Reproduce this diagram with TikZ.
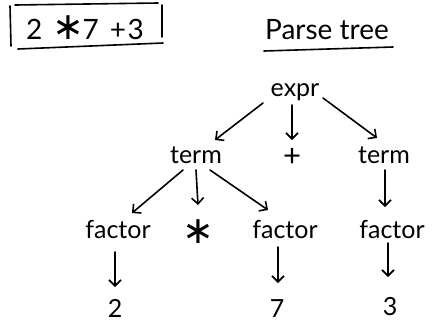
\documentclass[tikz,border=0pt]{standalone}
\usepackage{fontspec}
\setmainfont{Lato}
\newfontfamily\symfont{DejaVu Sans}
\usetikzlibrary{arrows.meta}
\newcommand{\hstar}{{\symfont\fontsize{38}{40}\selectfont ∗}}
\begin{document}
\begin{tikzpicture}[x=1pt,y=-1pt,
  pen/.style={line width=1.6pt,line cap=round},
  edge/.style={pen,-{Straight Barb[length=6pt,width=12pt,line width=1.6pt]}},
  lbl/.style={font=\fontsize{25}{27}\selectfont,inner sep=1pt},
  ttl/.style={font=\fontsize{28}{30}\selectfont,inner sep=1pt},
  inp/.style={font=\fontsize{28}{30}\selectfont,inner sep=0pt}]
\useasboundingbox (0,0) rectangle (432,322);
% input box
\node[inp] (input) at (85,28) {2\hspace{0.35em}\hstar\hspace{-0.05em}7\hspace{0.4em}+\hspace{0.05em}3};
\coordinate (bl1) at (10,6); \coordinate (bl2) at (11,46);
\coordinate (bt1) at (15,5); \coordinate (bt2) at (158,3);
\coordinate (br1) at (162,5); \coordinate (br2) at (162,37);
\coordinate (bb1) at (18,49); \coordinate (bb2) at (163,43);
\draw[pen] (bl1) -- (bl2);
\draw[pen] (bt1) -- (bt2);
\draw[pen] (br1) -- (br2);
\draw[pen] (bb1) -- (bb2);
% title
\node[ttl] (title) at (327,30) {Parse tree};
\coordinate (u1) at (264,51); \coordinate (u2) at (393,47);
\draw[pen] (u1) -- (u2);
% tree nodes
\node[lbl] (expr) at (295,92) {expr};
\node[lbl] (termL) at (196,155) {term};
\node[lbl,font=\fontsize{31}{33}\selectfont] (plus) at (292,157) {+};
\node[lbl] (termR) at (384,155) {term};
\node[lbl] (facA) at (118,230) {factor};
\node[lbl] (star) at (198,232) {\hstar};
\node[lbl] (facB) at (285,230) {factor};
\node[lbl] (facC) at (392,230) {factor};
\node[lbl] (two) at (115,308) {2};
\node[lbl] (seven) at (277,309) {7};
\node[lbl] (three) at (390,307) {3};
% connector end points
\coordinate (eL1) at (263,103); \coordinate (eL2) at (215,140);
\coordinate (eM1) at (292,105); \coordinate (eM2) at (292,140);
\coordinate (eR1) at (323,98);  \coordinate (eR2) at (377,138);
\coordinate (tL1) at (183,170); \coordinate (tL2) at (132,213);
\coordinate (tM1) at (196,170); \coordinate (tM2) at (198,205);
\coordinate (tR1) at (210,170); \coordinate (tR2) at (268,210);
\coordinate (tS1) at (385,170); \coordinate (tS2) at (385,207);
\coordinate (fA1) at (115,252); \coordinate (fA2) at (115,287);
\coordinate (fB1) at (278,247); \coordinate (fB2) at (278,283);
\coordinate (fC1) at (388,243); \coordinate (fC2) at (388,277);
% connectors
\draw[edge] (eL1) -- (eL2);
\draw[edge] (eM1) -- (eM2);
\draw[edge] (eR1) -- (eR2);
\draw[edge] (tL1) -- (tL2);
\draw[edge] (tM1) -- (tM2);
\draw[edge] (tR1) -- (tR2);
\draw[edge] (tS1) -- (tS2);
\draw[edge] (fA1) -- (fA2);
\draw[edge] (fB1) -- (fB2);
\draw[edge] (fC1) -- (fC2);
\end{tikzpicture}
\end{document}
